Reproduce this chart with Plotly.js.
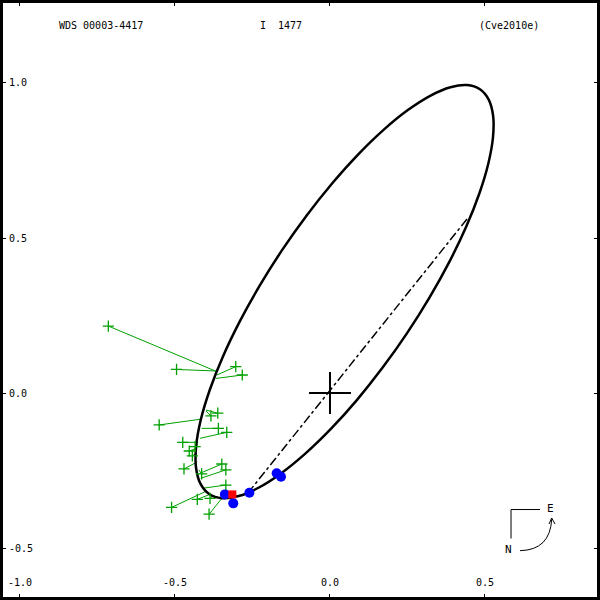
<!DOCTYPE html>
<html>
<head>
<meta charset="utf-8">
<script src="https://cdn.plot.ly/plotly-3.0.1.min.js"></script>
<style>html,body{margin:0;padding:0;background:#fff;}#chart{width:600px;height:600px;}</style>
</head>
<body>
<div id="chart"></div>
<script>
// Apparent orbit (arcsec)
var orbitX = [0.4837,0.4422,0.3886,0.3246,0.2522,0.1737,0.0912,0.0074,-0.0752,-0.1541,-0.2268,-0.2914,-0.3456,-0.3877,-0.4168,-0.4318,-0.4322,-0.4180,-0.3897,-0.3482,-0.2946,-0.2306,-0.1582,-0.0797,0.0028,0.0866,0.1692,0.2481,0.3208,0.3854,0.4396,0.4817,0.5108,0.5258,0.5262,0.5120,0.4837];
var orbitY = [0.9798,0.9933,0.9864,0.9596,0.9135,0.8497,0.7700,0.6768,0.5729,0.4616,0.3463,0.2302,0.1172,0.0105,-0.0865,-0.1710,-0.2404,-0.2925,-0.3258,-0.3393,-0.3324,-0.3056,-0.2595,-0.1957,-0.1160,-0.0228,0.0811,0.1924,0.3077,0.4238,0.5368,0.6435,0.7405,0.8250,0.8944,0.9465,0.9798];

// Line of nodes
var nodeX = [-0.265, 0.445];
var nodeY = [-0.323, 0.565];

// Primary star
var primaryX = [0];
var primaryY = [0];

// Micrometric / speckle measures (green) and their predicted positions
var obsX  = [-0.715,-0.495,-0.304,-0.283,-0.362,-0.384,-0.551,-0.360,-0.333,-0.475,-0.435,-0.454,-0.444,-0.471,-0.349,-0.336,-0.414,-0.336,-0.511,-0.428,-0.387,-0.390];
var obsY  = [0.216,0.076,0.085,0.058,-0.065,-0.074,-0.103,-0.114,-0.127,-0.159,-0.173,-0.187,-0.203,-0.245,-0.229,-0.248,-0.261,-0.297,-0.369,-0.343,-0.340,-0.391];
var predX = [-0.365,-0.369,-0.365,-0.368,-0.400,-0.400,-0.414,-0.414,-0.419,-0.425,-0.426,-0.430,-0.429,-0.428,-0.419,-0.417,-0.423,-0.409,-0.398,-0.387,-0.377,-0.349];
var predY = [0.069,0.071,0.058,0.047,-0.055,-0.058,-0.084,-0.114,-0.146,-0.159,-0.165,-0.178,-0.194,-0.222,-0.259,-0.275,-0.248,-0.307,-0.316,-0.327,-0.332,-0.340];

// Blue measures
var blueX = [-0.339,-0.312,-0.260,-0.172,-0.158];
var blueY = [-0.327,-0.356,-0.322,-0.259,-0.270];

// Red measure
var redX = [-0.315];
var redY = [-0.327];

// Tick labels
var xTickVals = [-1.0,-0.5,0.0,0.5];
var xTickText = ["-1.0","-0.5","0.0","0.5"];
var yTickVals = [1.0,0.5,0.0,-0.5];
var yTickText = ["1.0","0.5","0.0","-0.5"];

var GREEN = 'rgb(0,160,0)';
var FONT = 'DejaVu Sans Mono, Liberation Mono, monospace';

var segX = [], segY = [];
for (var i = 0; i < obsX.length; i++) {
  segX.push(obsX[i], predX[i], null);
  segY.push(obsY[i], predY[i], null);
}

var traces = [
  {x: segX, y: segY, mode: 'lines', line: {color: GREEN, width: 1}, hoverinfo: 'skip'},
  {x: orbitX, y: orbitY, mode: 'lines', line: {color: 'black', width: 2.5, shape: 'spline', smoothing: 1}},
  {x: nodeX, y: nodeY, mode: 'lines', line: {color: 'black', width: 1.5, dash: 'dashdot'}},
  {x: primaryX, y: primaryY, mode: 'markers', marker: {symbol: 'cross-thin', size: 30, line: {color: 'black', width: 2}}},
  {x: obsX, y: obsY, mode: 'markers', marker: {symbol: 'cross-thin', size: 8, line: {color: GREEN, width: 1.3}}},
  {x: blueX, y: blueY, mode: 'markers', marker: {symbol: 'circle', size: 10, color: 'rgb(0,0,255)'}},
  {x: redX, y: redY, mode: 'markers', marker: {symbol: 'square', size: 8, color: 'rgb(255,0,0)'}}
];

function axisBase() {
  return {
    showgrid: false, zeroline: false, showline: true, linecolor: 'black', linewidth: 4,
    mirror: 'ticks', ticks: 'inside', ticklen: 6, tickwidth: 1, tickcolor: 'black',
    ticklabelposition: 'inside', ticklabeloverflow: 'allow', automargin: false, fixedrange: true,
    tickfont: {family: FONT, size: 10, color: 'black'}, tickmode: 'array'
  };
}
var xa = axisBase();
xa.range = [-1.0645, 0.871];
xa.tickvals = xTickVals; xa.ticktext = xTickText;
xa.ticklabelstandoff = 5;
var ya = axisBase();
ya.range = [-0.6677, 1.2677];
ya.tickvals = yTickVals; ya.ticktext = yTickText;
ya.ticklabelstandoff = 2;

var layout = {
  width: 600, height: 600,
  margin: {l: 0, r: 0, t: 0, b: 0, pad: 0},
  paper_bgcolor: 'white', plot_bgcolor: 'white',
  showlegend: false,
  xaxis: xa, yaxis: ya,
  font: {family: FONT, size: 10, color: 'black'},
  annotations: [
    {text: 'WDS 00003-4417', xref: 'paper', yref: 'paper', x: 0.168, y: 0.958, xanchor: 'center', yanchor: 'middle', showarrow: false, font: {family: FONT, size: 10, color: 'black'}},
    {text: 'I  1477', xref: 'paper', yref: 'paper', x: 0.469, y: 0.958, xanchor: 'center', yanchor: 'middle', showarrow: false, font: {family: FONT, size: 10, color: 'black'}},
    {text: '(Cve2010e)', xref: 'paper', yref: 'paper', x: 0.848, y: 0.958, xanchor: 'center', yanchor: 'middle', showarrow: false, font: {family: FONT, size: 10, color: 'black'}},
    {text: 'E', xref: 'paper', yref: 'paper', x: 0.9167, y: 0.1517, xanchor: 'center', yanchor: 'middle', showarrow: false, font: {family: FONT, size: 11, color: 'black'}},
    {text: 'N', xref: 'paper', yref: 'paper', x: 0.8467, y: 0.085, xanchor: 'center', yanchor: 'middle', showarrow: false, font: {family: FONT, size: 11, color: 'black'}}
  ],
  shapes: [
    {type: 'rect', xref: 'paper', yref: 'paper', x0: 0, x1: 1, y0: 0, y1: 1, line: {color: 'black', width: 6}},
    {type: 'line', xref: 'paper', yref: 'paper', x0: 0.8517, x1: 0.9, y0: 0.1508, y1: 0.1508, line: {color: 'black', width: 1}},
    {type: 'line', xref: 'paper', yref: 'paper', x0: 0.8517, x1: 0.8517, y0: 0.1508, y1: 0.1025, line: {color: 'black', width: 1}},
    {type: 'path', xref: 'paper', yref: 'paper', path: 'M 0.8667 0.0822 Q 0.9167 0.0833 0.9195 0.1345', line: {color: 'black', width: 1}},
    {type: 'path', xref: 'paper', yref: 'paper', path: 'M 0.9150 0.1267 L 0.9195 0.1367 L 0.9250 0.1267', line: {color: 'black', width: 1}}
  ]
};

Plotly.newPlot('chart', traces, layout, {staticPlot: true, displayModeBar: false});
</script>
</body>
</html>
